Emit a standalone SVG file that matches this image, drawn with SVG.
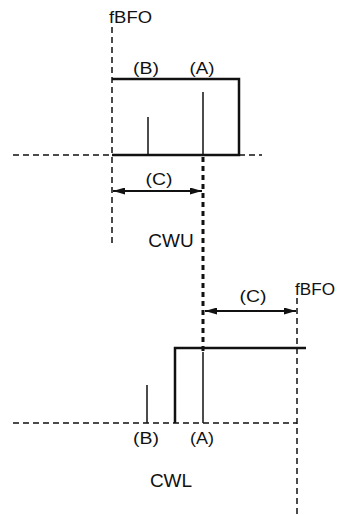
<svg xmlns="http://www.w3.org/2000/svg" width="348" height="515" viewBox="0 0 348 515">
<style>
text{font-family:"Liberation Sans",Arial,sans-serif;fill:#111}
.lbl{font-size:17px}
.big{font-size:19px}
.thick{stroke:#111;stroke-width:2.5;fill:none}
.thin{stroke:#111;stroke-width:1.5;fill:none}
.dash{stroke:#111;stroke-width:1.5;stroke-dasharray:6 4;fill:none}
.dashb{stroke:#111;stroke-width:3;stroke-dasharray:5 4;fill:none}
.arr{stroke:#111;stroke-width:1.8;fill:none;marker-start:url(#ah);marker-end:url(#ah)}
</style>
<defs>
<marker id="ah" viewBox="0 0 12 7" refX="12" refY="3.5" markerWidth="12" markerHeight="7" markerUnits="userSpaceOnUse" orient="auto-start-reverse">
<path d="M0,0 L12,3.5 L0,7 Z" fill="#111"/>
</marker>
</defs>
<rect width="348" height="515" fill="#fff"/>
<g id="connectors">
<line class="dash" x1="112" y1="27" x2="112" y2="247"/>
<line class="dash" x1="13" y1="155" x2="112" y2="155"/>
<line class="dash" x1="239" y1="155" x2="262" y2="155"/>
<line class="dashb" x1="203" y1="157" x2="203" y2="352"/>
<line class="dash" x1="297" y1="298" x2="297" y2="515"/>
<line class="dash" x1="13" y1="423" x2="297" y2="423"/>
<line class="arr" x1="113" y1="191" x2="202" y2="191"/>
<line class="arr" x1="205" y1="311" x2="296" y2="311"/>
</g>
<g id="cwu">
<polyline class="thick" points="112,79 239,79 239,155 112,155"/>
<line class="thin" x1="203" y1="92" x2="203" y2="155"/>
<line class="thin" x1="148" y1="117" x2="148" y2="155"/>
<text class="lbl" x="109" y="23" textLength="43" lengthAdjust="spacingAndGlyphs">fBFO</text>
<text class="lbl" x="146" y="74" text-anchor="middle" textLength="26" lengthAdjust="spacingAndGlyphs">(B)</text>
<text class="lbl" x="202" y="74" text-anchor="middle" textLength="25" lengthAdjust="spacingAndGlyphs">(A)</text>
<text class="lbl" x="159" y="185" text-anchor="middle" textLength="27" lengthAdjust="spacingAndGlyphs">(C)</text>
<text class="big" x="171" y="247" text-anchor="middle">CWU</text>
</g>
<g id="cwl">
<polyline class="thick" points="175,423 175,348 306,348"/>
<line class="thin" x1="203" y1="352" x2="203" y2="423"/>
<line class="thin" x1="147" y1="385" x2="147" y2="423"/>
<text class="lbl" x="295" y="295" textLength="40" lengthAdjust="spacingAndGlyphs">fBFO</text>
<text class="lbl" x="253" y="302" text-anchor="middle" textLength="27" lengthAdjust="spacingAndGlyphs">(C)</text>
<text class="lbl" x="146" y="444" text-anchor="middle" textLength="26" lengthAdjust="spacingAndGlyphs">(B)</text>
<text class="lbl" x="202" y="444" text-anchor="middle" textLength="24" lengthAdjust="spacingAndGlyphs">(A)</text>
<text class="big" x="171" y="487" text-anchor="middle">CWL</text>
</g>
</svg>
